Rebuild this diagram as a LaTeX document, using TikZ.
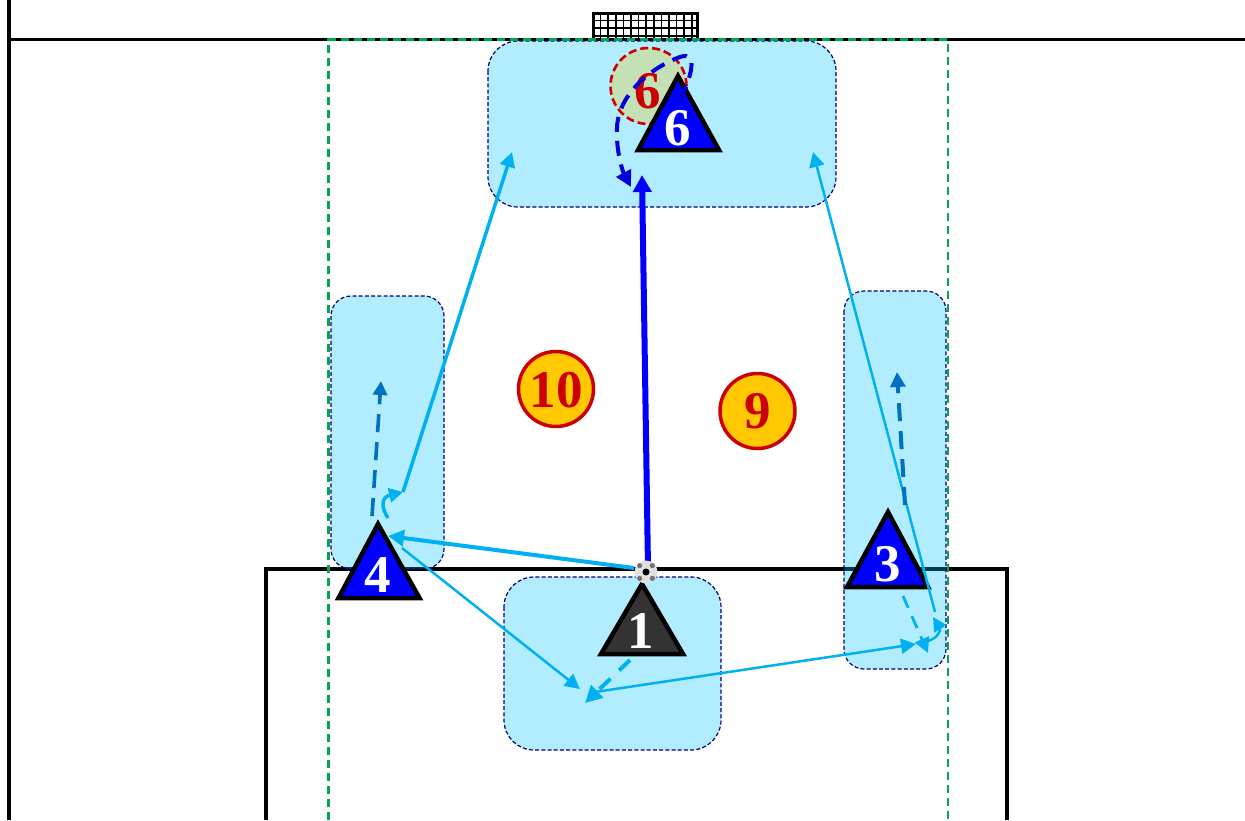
\documentclass[tikz,border=0pt]{standalone}
\usepackage{fontspec}
\setmainfont{Liberation Serif}
\usetikzlibrary{arrows.meta}
\definecolor{zone}{RGB}{0,198,255}
\definecolor{zoneline}{RGB}{0,0,128}
\definecolor{pitchgreen}{RGB}{0,166,81}
\definecolor{sky}{RGB}{0,176,240}
\definecolor{midblue}{RGB}{0,112,192}
\definecolor{darkred}{RGB}{204,0,0}
\definecolor{gold}{RGB}{255,200,0}
\definecolor{sage}{RGB}{197,224,180}
\tikzset{
  fieldline/.style={draw=black,line width=3.8pt},
  zonebox/.style={fill=zone,fill opacity=.3,draw=zoneline,line width=1.2pt,dash pattern=on 4pt off 2.2pt},
  tri/.style={draw=black,line width=4.5pt,miter limit=10,line join=miter},
  lab/.style={font=\bfseries\fontsize{53}{53}\selectfont,inner sep=0pt},
  white lab/.style={lab,text=white},
  red lab/.style={lab,text=darkred},
  disc/.style={circle,draw=darkred,fill=gold,line width=3.5pt,minimum size=75pt,inner sep=0pt},
  hd/.style={-{Triangle[width=#1,length=#1]}},
  hd/.default=15pt,
  pass/.style={draw=sky,hd=15pt},
}
\begin{document}
\begin{tikzpicture}[x=1pt,y=-1pt]
\useasboundingbox (0,0) rectangle (1245,820);
\fill[white] (0,0) rectangle (1245,820);
% pitch
\draw[fieldline] (9,820) -- (9,0);
\draw[fieldline] (9,39.5) -- (1245,39.5);
\draw[fieldline] (266,820) -- (266,569) -- (1007,569) -- (1007,820);
% net
\draw[black,line width=1.5pt,step=7.6pt,shift={(593,13)}] (0,0) grid (105,26);
\draw[black,line width=2.4pt] (593.5,39) -- (593.5,13.5) -- (697.5,13.5) -- (697.5,39);
% zones
\draw[zonebox,rounded corners=30pt] (488,41) rectangle (836,207);
\draw[zonebox,rounded corners=20pt] (331,296) rectangle (444,569);
\draw[zonebox,rounded corners=20pt] (844,291) rectangle (946,669);
\draw[zonebox,rounded corners=30pt] (504,577) rectangle (721,750);
\draw[pitchgreen,line width=2.8pt,dash pattern=on 8pt off 5pt] (328.5,820) -- (328.5,39.5) -- (948,39.5) -- (948,820);
% discs
\node[disc] (ten) at (556,389) {};
\node[red lab] at (556,390) {10};
\node[disc] (nine) at (757.5,411) {};
\node[red lab] at (758,411) {9};
\node[circle,fill=sage,draw=darkred,line width=2.6pt,dash pattern=on 8pt off 4pt,minimum size=76pt,inner sep=0pt] (ghost) at (648.5,86) {};
\node[red lab] (ghostnum) at (648,91) {6};
% coordinates for connector ends
\coordinate (ballleft) at (634,568);
\coordinate (ballup) at (648,568);
\coordinate (goalshot) at (642,175);
\coordinate (p4) at (388,536);
\coordinate (p4out) at (402,548);
\coordinate (rec1) at (580,689);
\coordinate (rec1b) at (595,692);
\coordinate (rec2) at (916,644);
\coordinate (turnA) at (388,518);
\coordinate (turnB) at (403,492);
\coordinate (aimL) at (512,152);
\coordinate (runLa) at (372,516);
\coordinate (runLb) at (381,381);
\coordinate (turnC) at (928,641);
\coordinate (turnD) at (933,617);
\coordinate (turnE) at (935,612);
\coordinate (aimR) at (813,152);
\coordinate (runRa) at (905,505);
\coordinate (runRb) at (897,372);
\coordinate (dash3a) at (903,596);
\coordinate (dash3b) at (928,653);
\coordinate (dash1a) at (630,660);
\coordinate (dash1b) at (585,703);
% players
\draw[tri,fill=blue] (678,76) -- (719,150) -- (638,150) -- cycle;
\draw[tri,fill=blue] (378,524) -- (419.5,598) -- (338.5,598) -- cycle;
\draw[tri,fill=blue] (888,512) -- (928,587) -- (847,587) -- cycle;
\draw[tri,fill=black!80] (642,584) -- (683,654) -- (601,654) -- cycle;
\node[white lab] (six) at (678,128) {6};
\node[white lab] (four) at (378,575) {4};
\node[white lab] (three) at (888,564) {3};
\node[white lab] (one) at (641,631) {1};
% connectors
\draw[blue,line width=6pt,-{Triangle[width=18pt,length=17pt]}] (ballup) -- (goalshot);
\draw[pass,line width=4pt,hd=16pt] (ballleft) -- (p4);
\draw[pass,line width=2.5pt] (p4out) -- (rec1);
\draw[pass,line width=2.5pt] (rec1b) -- (rec2);
\draw[sky,line width=3.5pt,hd=14pt] (turnA) .. controls (380,506) and (382,497) .. (turnB);
\draw[sky,line width=3.5pt,hd=15pt] (turnB) -- (aimL);
\draw[sky,line width=2.5pt,hd=14pt] (turnC) .. controls (938,638) and (941,630) .. (turnD);
\draw[sky,line width=2.5pt,hd=15pt] (turnE) -- (aimR);
\draw[midblue,line width=3.6pt,dash pattern=on 18pt off 10pt,hd=14pt] (runLa) -- (runLb);
\draw[midblue,line width=4pt,dash pattern=on 18pt off 10pt,hd=15pt] (runRa) -- (runRb);
\draw[sky,line width=2.8pt,dash pattern=on 13pt off 9pt,hd=15pt] (dash3a) -- (dash3b);
\draw[sky,line width=4pt,dash pattern=on 15pt off 12pt,hd=17pt] (dash1a) -- (dash1b);
\draw[blue!85!black,line width=4pt,dash pattern=on 15pt off 9pt,hd=16pt] (680,100) .. controls (690,80) and (700,50) .. (680,57) .. controls (650,68) and (618,95) .. (617,128) .. controls (616,150) and (622,170) .. (631,187);
% ball
\node[circle,fill=black!12,minimum size=23pt,inner sep=0pt] (ball) at (646,572) {};
\node[circle,fill=black,minimum size=7pt,inner sep=0pt] (ballcore) at (646,572) {};
\foreach \a in {45,135,225,315}
  \fill[black!55] (646,572) ++(\a:9) circle (2.6);
\end{tikzpicture}
\end{document}
